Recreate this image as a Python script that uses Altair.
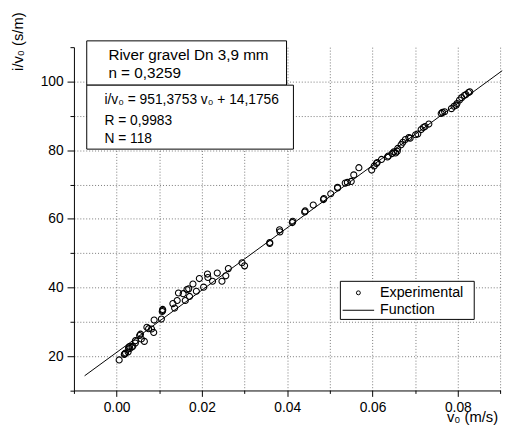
import altair as alt
import pandas as pd

# ---- data ----
exp_v = [0.0006, 0.0018, 0.0019, 0.0021, 0.0027, 0.0028, 0.0030, 0.0031, 0.0036, 0.0038,
         0.0044, 0.0044, 0.0054, 0.0056, 0.0058, 0.0065, 0.0071, 0.0075, 0.0082, 0.0087,
         0.0088, 0.0105, 0.0108, 0.0108, 0.0107, 0.0132, 0.0136, 0.0142, 0.0145, 0.0156,
         0.0161, 0.0165, 0.0169, 0.0171, 0.0179, 0.0187, 0.0194, 0.0204, 0.0213, 0.0214,
         0.0225, 0.0236, 0.0247, 0.0256, 0.0262, 0.0294, 0.0300,
         0.0359, 0.0359, 0.0382, 0.0383, 0.0412, 0.0413, 0.0441, 0.0442, 0.0461, 0.0485,
         0.0486, 0.0502, 0.0518, 0.0518,
         0.0536, 0.0541, 0.0550, 0.0556, 0.0568, 0.0598, 0.0604, 0.0609, 0.0611, 0.0621,
         0.0635, 0.0637, 0.0646, 0.0650, 0.0654, 0.0658, 0.0659, 0.0667, 0.0671, 0.0677,
         0.0685, 0.0688, 0.0701, 0.0706, 0.0714, 0.0719, 0.0723, 0.0732, 0.0761, 0.0764,
         0.0769, 0.0785, 0.0791, 0.0796, 0.0798, 0.0804, 0.0809, 0.0815, 0.0819, 0.0825,
         0.0828]
exp_i = [18.9, 20.5, 20.7, 20.9, 21.2, 22.4, 22.8, 22.2, 22.7, 22.9,
         24.5, 23.8, 26.0, 26.4, 25.0, 24.3, 28.4, 28.0, 27.9, 26.9,
         30.5, 30.8, 33.6, 33.3, 33.0, 35.3, 34.0, 36.2, 38.4, 38.2,
         36.2, 39.4, 39.6, 37.4, 41.0, 38.9, 42.6, 40.1, 43.9, 42.9,
         41.8, 44.2, 41.8, 43.4, 45.5, 47.2, 46.3,
         53.1, 52.8, 56.8, 56.2, 58.9, 59.3, 62.0, 62.3, 64.0, 65.6,
         65.9, 67.3, 69.2, 69.0,
         70.4, 70.6, 70.9, 72.8, 74.9, 74.2, 75.4, 76.1, 76.4, 77.3,
         78.0, 78.3, 79.0, 79.5, 79.2, 79.7, 80.5, 81.6, 82.3, 83.1,
         83.7, 83.5, 84.5, 84.7, 86.0, 86.6, 86.9, 87.6, 90.7, 91.0,
         91.2, 92.1, 92.8, 93.1, 93.6, 94.6, 95.3, 95.9, 96.2, 96.8,
         97.0]

fit_v = [-0.0075, 0.0904]
fit_i = [14.27, 103.15]

x_ticks = [-0.01, 0.0, 0.01, 0.02, 0.03, 0.04, 0.05, 0.06, 0.07, 0.08, 0.09]
y_ticks = [10, 20, 30, 40, 50, 60, 70, 80, 90, 100, 110]

box1_lines = ["River gravel Dn 3,9 mm", "n = 0,3259"]
box2_lines = ["i/v\u2080 = 951,3753 v\u2080 + 14,1756", "R = 0,9983", "N = 118"]
legend_labels = ["Experimental", "Function"]
x_title = "v\u2080 (m/s)"
y_title = "i/v\u2080 (s/m)"

FONT = "Liberation Sans"

exp_df = pd.DataFrame({"v": exp_v, "i": exp_i})
fit_df = pd.DataFrame({"v": fit_v, "i": fit_i})
one = pd.DataFrame({"k": [0]})

x_major = "abs(round(datum.value*100)) % 2 === 0"
y_major = "datum.value % 20 === 0"

X = alt.X("v:Q", scale=alt.Scale(domain=[-0.01, 0.09], nice=False, zero=False),
          axis=alt.Axis(values=x_ticks, title=None,
                        labelExpr=f"{x_major} ? format(datum.value, '.2f') : ''",
                        tickSize={"condition": {"test": x_major, "value": 6}, "value": 3},
                        labelPadding=4,
                        grid=True,
                        gridOpacity={"condition": {"test": "datum.value < -0.005", "value": 0}, "value": 1}))
Y = alt.Y("i:Q", scale=alt.Scale(domain=[10, 110], nice=False, zero=False),
          axis=alt.Axis(values=y_ticks, title=None,
                        labelExpr=f"({y_major}) && datum.value >= 20 && datum.value <= 100 ? datum.label : ''",
                        tickSize={"condition": {"test": y_major, "value": 7}, "value": 4},
                        labelPadding=4,
                        grid=True,
                        gridOpacity={"condition": {"test": "datum.value < 15 || datum.value > 105", "value": 0}, "value": 1}))

points = alt.Chart(exp_df).mark_point(shape="circle", filled=False, color="black",
                                      size=38, strokeWidth=1.1, opacity=1).encode(x=X, y=Y)
fit = alt.Chart(fit_df).mark_line(color="black", strokeWidth=1).encode(x=X, y=Y)


def box(x1, y1, x2, y2):
    return alt.Chart(one).mark_rect(fill="white", stroke="black", strokeWidth=1).encode(
        x=alt.value(x1), x2=alt.value(x2), y=alt.value(y1), y2=alt.value(y2))


def label(t, x, y, size, align="left", baseline="alphabetic", angle=0):
    kw = dict(text=t, font=FONT, fontSize=size, color="black", align=align, baseline=baseline)
    if angle:
        kw["angle"] = angle
    return alt.Chart(one).mark_text(**kw).encode(x=alt.value(x), y=alt.value(y))


layers = [points, fit,
          box(13, -6.4, 216, 38.6),
          box(13, 38.6, 223, 103.6),
          label(box1_lines[0], 35, 12.9, 15.5),
          label(box1_lines[1], 35, 31.6, 15.5),
          label(box2_lines[0], 31, 57.3, 14),
          label(box2_lines[1], 31, 78.9, 14),
          label(box2_lines[2], 31, 97.3, 14),
          box(270.7, 237.9, 406.7, 276.6),
          alt.Chart(one).mark_point(shape="circle", filled=False, color="black", size=16,
                                    strokeWidth=1, opacity=1).encode(x=alt.value(289), y=alt.value(249.6)),
          alt.Chart(one).mark_rule(color="black", strokeWidth=1).encode(
              x=alt.value(273), x2=alt.value(305), y=alt.value(267.3)),
          label(legend_labels[0], 311, 249.6, 14.5, baseline="middle"),
          label(legend_labels[1], 311, 267.3, 14.5, baseline="middle"),
          label(x_title, 379, 380.6, 15),
          label(y_title, -52, -35.4, 15, align="right", angle=270),
          ]

chart = alt.layer(*layers).properties(
    width=433.4, height=348.8,
    autosize="none",
    padding={"left": 67, "top": 36.4, "right": 6.6, "bottom": 38.8},
    background="white",
).configure_view(stroke=None).configure_axis(
    labelFont=FONT, labelFontSize=14, labelColor="black",
    domainColor="black", domainWidth=1, tickColor="black", tickWidth=1,
    gridColor="#777777", gridDash=[1, 2], gridWidth=1,
)

chart.save("out.html", embed_options={"renderer": "svg", "actions": False})
